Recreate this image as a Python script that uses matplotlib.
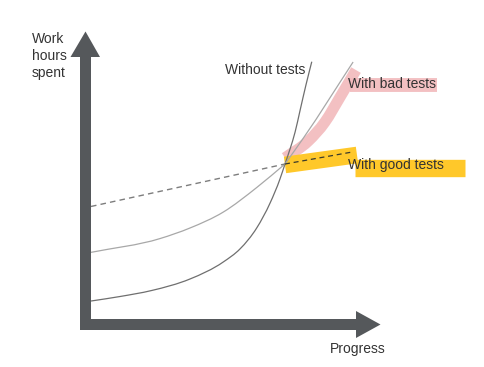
import matplotlib
matplotlib.use("Agg")
import matplotlib.pyplot as plt
from matplotlib.patches import Polygon, PathPatch
from matplotlib.path import Path

# ---- data (progress units, work-hour units; crossing point at (100, 100)) ----
without_x = [0, 14.9, 31.3, 51.0, 68.2, 76.8, 85.4, 92.3, 97.4, 100, 102.6, 105.2, 107.7, 110.8, 113.8]
without_y = [11.6, 14.5, 18.4, 25.8, 36.8, 45.2, 58.7, 74.8, 90.3, 100, 109.7, 120.6, 134.2, 151.0, 166.0]

bad_before_x = [0, 35.6, 51.0, 68.2, 85.4, 100]
bad_before_y = [43.0, 51.9, 58.7, 69.0, 84.8, 100]
bad_after_x = [100, 109.4, 135.1]
bad_after_y = [100, 116.6, 165.8]

good_before_x = [0, 100]
good_before_y = [72.6, 100]
good_after_x = [100, 134.5]
good_after_y = [100, 107.7]

bad_mark_x = [100.0, 112.0, 120.6, 128.4, 136.6]
bad_mark_y = [104.0, 114.8, 127.1, 143.2, 160.6]
good_mark_x = [100, 137.1]
good_mark_y = [99.4, 105.8]

labels = ["Without tests", "With bad tests", "With good tests"]
y_label = "Work\nhours\nspent"
x_label = "Progress"

# ---- layout helpers ----
W, H = 485, 367
OX, OY, SX, SY = 91, 319, 1.94, 1.55


def P(px, py):
    return ((px - OX) / SX, (OY - py) / SY)


def smooth_path(xs, ys):
    """Cubic Bezier (Hermite) path through the given points, x-parametrised."""
    n = len(xs)
    h = [xs[i + 1] - xs[i] for i in range(n - 1)]
    d = [(ys[i + 1] - ys[i]) / h[i] for i in range(n - 1)]
    m = [0.0] * n
    m[0], m[-1] = d[0], d[-1]
    for i in range(1, n - 1):
        m[i] = (d[i - 1] * h[i] + d[i] * h[i - 1]) / (h[i - 1] + h[i])
    verts = [(xs[0], ys[0])]
    codes = [Path.MOVETO]
    for i in range(n - 1):
        c1 = (xs[i] + h[i] / 3, ys[i] + m[i] * h[i] / 3)
        c2 = (xs[i + 1] - h[i] / 3, ys[i + 1] - m[i + 1] * h[i] / 3)
        verts += [c1, c2, (xs[i + 1], ys[i + 1])]
        codes += [Path.CURVE4] * 3
    return Path(verts, codes)


fig = plt.figure(figsize=(W / 100, H / 100), dpi=100)
ax = fig.add_axes([0, 0, 1, 1])
x0, y0 = P(0, H)
x1, y1 = P(W, 0)
ax.set_xlim(x0, x1)
ax.set_ylim(y0, y1)
ax.axis("off")

plt.rcParams["font.family"] = ["Liberation Sans", "DejaVu Sans"]
txt_col = "#333333"
axis_col = "#55585b"
pink = "#f2b9bc"
yellow = "#ffc82a"

# axis arrows
vert = [P(80, 330), P(80, 57), P(70.5, 57), P(85.5, 31.5), P(100, 57), P(91, 57), P(91, 330)]
horz = [P(80, 319), P(356, 319), P(356, 311), P(380.5, 324.5), P(356, 338), P(356, 330), P(80, 330)]
ax.add_patch(Polygon(vert, closed=True, color=axis_col, lw=0, zorder=5))
ax.add_patch(Polygon(horz, closed=True, color=axis_col, lw=0, zorder=5))

# highlighter marks
ax.add_patch(PathPatch(smooth_path(bad_mark_x, bad_mark_y), fill=False, edgecolor=pink,
                       lw=8, capstyle="butt", joinstyle="round", alpha=0.9, zorder=1))
ax.plot(good_mark_x, good_mark_y, color=yellow, lw=12, solid_capstyle="butt", zorder=1)
bx0, by0 = P(350, 85)
bx1, _ = P(437, 85)
ax.plot([bx0, bx1], [by0, by0], color=pink, lw=10, solid_capstyle="butt", alpha=0.9, zorder=1)
gx0, gy0 = P(355, 168)
gx1, _ = P(465, 168)
ax.plot([gx0, gx1], [gy0, gy0], color=yellow, lw=12.5, solid_capstyle="butt", zorder=1)

# curves
ax.add_patch(PathPatch(smooth_path(without_x, without_y), fill=False,
                       edgecolor="#6f6f6f", lw=0.9, zorder=3))
ax.add_patch(PathPatch(smooth_path(bad_before_x, bad_before_y), fill=False,
                       edgecolor="#a8a8a8", lw=0.9, zorder=3))
ax.add_patch(PathPatch(smooth_path(bad_after_x, bad_after_y), fill=False,
                       edgecolor="#a8a8a8", lw=0.9, zorder=3))
ax.plot(good_before_x, good_before_y, color="#7d7d7d", lw=1.0, ls=(0, (4, 3)), zorder=3)
ax.plot(good_after_x, good_after_y, color="#3a3a2a", lw=0.9, ls=(0, (4, 3)), zorder=3)

# texts
fs = 10
tx, ty = P(32, 56)
ax.text(tx, ty, y_label, ha="left", va="center", fontsize=fs, color=txt_col,
        linespacing=1.25, zorder=6)
tx, ty = P(330, 349)
ax.text(tx, ty, x_label, ha="left", va="center", fontsize=fs, color=txt_col, zorder=6)
for lab, (px, py) in zip(labels, [(225, 70), (348.5, 83.5), (348.5, 164.5)]):
    tx, ty = P(px, py)
    ax.text(tx, ty, lab, ha="left", va="center", fontsize=fs, color=txt_col, zorder=6)

fig.savefig("out.png", dpi=100)
